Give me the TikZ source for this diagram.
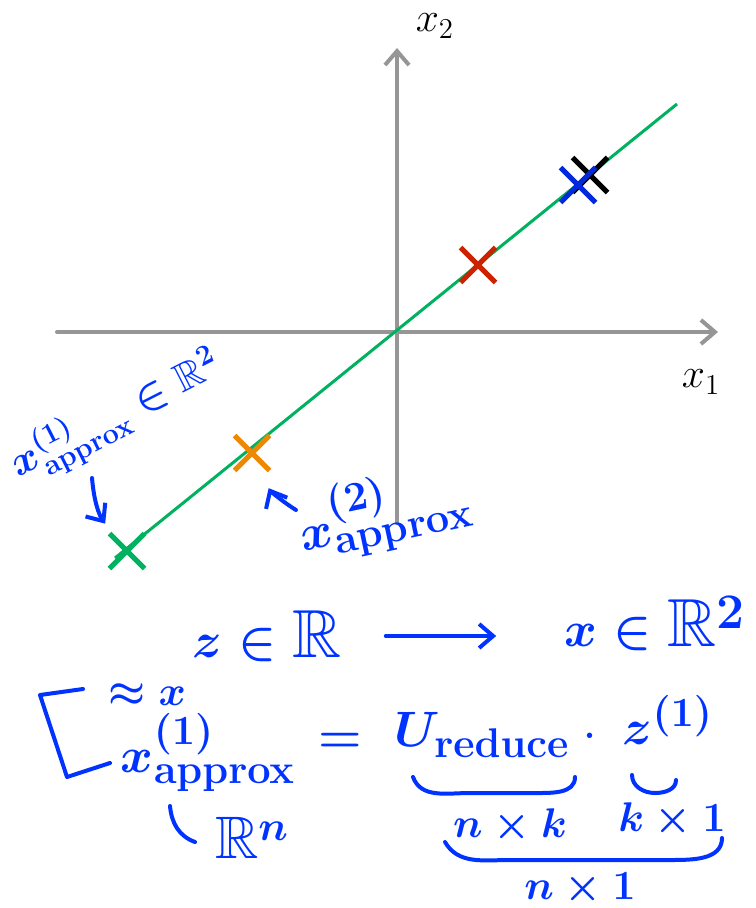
\documentclass[tikz,border=0pt]{standalone}
\usepackage{amsmath, amssymb}
\usetikzlibrary{arrows.meta,shapes.misc}

\definecolor{axisgray}{RGB}{150,150,150}
\definecolor{linegreen}{RGB}{0,178,96}
\definecolor{inkblue}{RGB}{0,51,255}
\definecolor{ptblue}{RGB}{0,40,220}
\definecolor{ptred}{RGB}{204,34,0}
\definecolor{ptorange}{RGB}{238,136,0}

\newcommand{\handsize}[1]{\fontsize{#1}{#1}\selectfont\boldmath}

\begin{document}
\begin{tikzpicture}[x=0.5pt, y=-0.5pt, >={Straight Barb[length=7pt,width=12pt]}]
    \tikzset{
        axis/.style={axisgray, line width=2pt, ->, line cap=round},
        xpt/.style={cross out, draw=#1, line width=2.5pt, minimum size=15pt, inner sep=0pt},
        ink/.style={inkblue, line width=2pt, line cap=round, line join=round},
        inktext/.style={text=inkblue, inner sep=0pt, font=\handsize{#1}},
    }
    \useasboundingbox (0,0) rectangle (755,908);

    % axes
    \coordinate (O) at (397,332);
    \coordinate (Xl) at (57,332);
    \coordinate (Xr) at (718,332);
    \coordinate (Yb) at (397,523);
    \coordinate (Yt) at (397,48);
    \draw[axis] (Xl) -- (Xr);
    \draw[axis] (Yb) -- (Yt);
    \node[font=\fontsize{20}{24}\selectfont] (x1) at (701,382) {\(x_1\)};
    \node[font=\fontsize{20}{24}\selectfont] (x2) at (435,26) {\(x_2\)};

    % projection line and points
    \coordinate (Lb) at (115,558);
    \coordinate (Lt) at (677,104);
    \draw[linegreen, line width=1.5pt] (Lb) -- (Lt);
    \node[xpt=linegreen] (pg) at (127,551) {};
    \node[xpt=ptorange] (po) at (252,453) {};
    \node[xpt=ptred] (pr) at (478,265) {};
    \node[xpt=black] (pk) at (590,175) {};
    \node[xpt=ptblue] (pb) at (578,185) {};

    % notes near the line
    \node[inktext=20, rotate=27] (lab1) at (117,417)
        {\(x_{\mathrm{approx}}^{(1)} \in \mathbb{R}^2\)};
    \node[inktext=30, rotate=12] (lab2) at (384,513)
        {\(x_{\mathrm{approx}}^{(2)}\)};
    \coordinate (a1) at (92,478);
    \coordinate (a2) at (296,510);
    \draw[ink, ->, shorten >=6pt] (a1) to[bend right=15] (pg);
    \draw[ink, ->, shorten >=10pt] (a2) to[bend left=15] (po);

    % mapping
    \node[inktext=34] (zR) at (267,636) {\(z \in \mathbb{R}\)};
    \node[inktext=34] (xR) at (655,624) {\(x \in \mathbb{R}^2\)};
    \draw[ink, ->, shorten <=22pt, shorten >=34pt] (zR.east) -- (zR.east -| xR.west);

    % reconstruction
    \draw[ink] (83,689) -- (40,695) -- (67,777) -- (110,763);
    \node[inktext=22] (apx) at (147,695) {\(\approx x\)};
    \node[inktext=32] (xap) at (208,752) {\(x_{\mathrm{approx}}^{(1)}\)};
    \node[inktext=26] (eq) at (340,743) {\(=\)};
    \node[inktext=30] (ured) at (482,735) {\(U_{\mathrm{reduce}}\)};
    \node[inktext=16] (dot) at (590,736) {\(\cdot\)};
    \node[inktext=32] (zi) at (668,720) {\(z^{(1)}\)};
    \draw[ink] (170,806) to[out=-85, in=160] (195,842);
    \node[inktext=30] (Rn) at (252,838) {\(\mathbb{R}^n\)};

    % sizes
    \draw[ink] (413,777) to[out=-70, in=180] (470,793) -- (535,793) to[out=0, in=-90] (575,777);
    \draw[ink] (632,775) to[out=-90, in=180] (655,793) to[out=0, in=-90] (676,780);
    \node[inktext=22] (nk) at (510,826) {\(n \times k\)};
    \node[inktext=22] (k1) at (672,820) {\(k \times 1\)};
    \draw[ink] (445,842) to[out=-60, in=180] (510,860) -- (670,860) to[out=0, in=-90] (722,838);
    \node[inktext=22] (n1) at (580,889) {\(n \times 1\)};
\end{tikzpicture}
\end{document}
